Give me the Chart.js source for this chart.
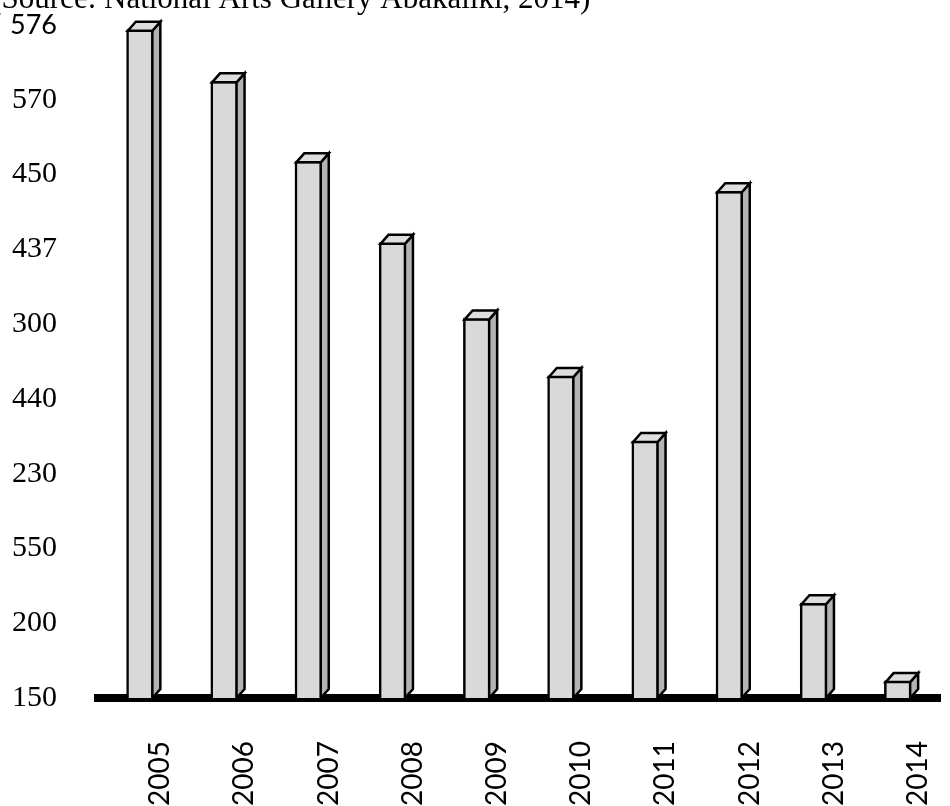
<!DOCTYPE html>
<html>
<head>
<meta charset="utf-8">
<script src="https://cdn.jsdelivr.net/npm/chart.js@4"></script>
<style>
  html, body { margin: 0; padding: 0; background: #fff; }
  #wrap { width: 950px; height: 806px; position: relative; overflow: hidden; }
  canvas { display: block; }
</style>
</head>
<body>
<div id="wrap"><canvas id="chart" width="950" height="806"></canvas></div>
<script>
// Years along the bottom axis
const years = ['2005', '2006', '2007', '2008', '2009', '2010', '2011', '2012', '2013', '2014'];
// Bar heights, in steps of the vertical axis (one step per printed label)
const heights = [8.94, 8.25, 7.18, 6.09, 5.08, 4.31, 3.44, 6.78, 1.27, 0.23];
// Labels printed up the vertical axis, bottom to top
const tickLabels = ['150', '200', '550', '230', '440', '300', '437', '450', '570', '576'];
// Source line above the chart
const sourceNote = '(Source: National Arts Gallery Abakaliki, 2014)';

const SERIF = '"Liberation Serif", "Times New Roman", serif';
const SANS = 'Lato, "Open Sans", sans-serif';
const EDGE = 2.5;

// Top and side faces that give each bar its box look
const boxFaces = {
  id: 'boxFaces',
  afterDatasetsDraw(chart) {
    const ctx = chart.ctx;
    const dx = 8, dy = 9;
    ctx.save();
    ctx.lineWidth = EDGE;
    ctx.strokeStyle = '#000';
    ctx.lineJoin = 'miter';
    chart.getDatasetMeta(0).data.forEach(bar => {
      const { x, y, base, width } = bar.getProps(['x', 'y', 'base', 'width'], true);
      const h = EDGE / 2;
      const L = x - width / 2 + h, R = x + width / 2 - h, T = y + h;
      // side face
      ctx.beginPath();
      ctx.moveTo(R, T);
      ctx.lineTo(R + dx, T - dy);
      ctx.lineTo(R + dx, base - dy);
      ctx.lineTo(R, base);
      ctx.closePath();
      ctx.fillStyle = '#b3b3b3';
      ctx.fill();
      ctx.stroke();
      // top face
      ctx.beginPath();
      ctx.moveTo(L, T);
      ctx.lineTo(L + dx, T - dy);
      ctx.lineTo(R + dx, T - dy);
      ctx.lineTo(R, T);
      ctx.closePath();
      ctx.fillStyle = '#dedede';
      ctx.fill();
      ctx.stroke();
    });
    ctx.restore();
  }
};

// Source line, drawn so that "National" starts just right of the axis labels
const sourceLine = {
  id: 'sourceLine',
  afterDraw(chart) {
    const ctx = chart.ctx;
    ctx.save();
    ctx.font = '31px ' + SERIF;
    ctx.fillStyle = '#000';
    ctx.textBaseline = 'alphabetic';
    const lead = ctx.measureText('(Source: ').width;
    ctx.fillText(sourceNote, 104 - lead, 8);
    ctx.restore();
  }
};

new Chart(document.getElementById('chart'), {
  type: 'bar',
  data: {
    labels: years,
    datasets: [{
      data: heights,
      backgroundColor: '#d9d9d9',
      borderColor: '#000',
      borderWidth: EDGE,
      borderSkipped: 'start',
      barThickness: 27
    }]
  },
  options: {
    responsive: false,
    animation: false,
    events: [],
    layout: { padding: { top: 25, right: 10, left: 0, bottom: 0 } },
    plugins: { legend: { display: false }, tooltip: { enabled: false }, title: { display: false } },
    scales: {
      x: {
        type: 'category',
        offset: true,
        z: 1,
        grid: { display: false, drawTicks: false, tickLength: 0 },
        border: { display: true, color: '#000', width: 8 },
        afterFit(scale) {
          scale.height = 108;
          scale.paddingLeft = 0;
          scale.paddingRight = 0;
        },
        ticks: {
          autoSkip: false,
          minRotation: 90,
          maxRotation: 90,
          padding: 43,
          labelOffset: 20,
          color: '#000',
          font: { family: SANS, size: 28 }
        }
      },
      y: {
        type: 'linear',
        min: 0,
        max: 9,
        grid: { display: false, drawTicks: false, tickLength: 0 },
        border: { display: false },
        afterFit(scale) {
          scale.width = 98;
          scale.paddingTop = 0;
          scale.paddingBottom = 0;
        },
        ticks: {
          stepSize: 1,
          padding: 41,
          color: '#000',
          callback: v => tickLabels[v],
          font: c => (c.tick && c.tick.value === 9)
            ? { family: SANS, size: 27 }
            : { family: SERIF, size: 30 }
        }
      }
    }
  },
  plugins: [boxFaces, sourceLine]
});
</script>
</body>
</html>
